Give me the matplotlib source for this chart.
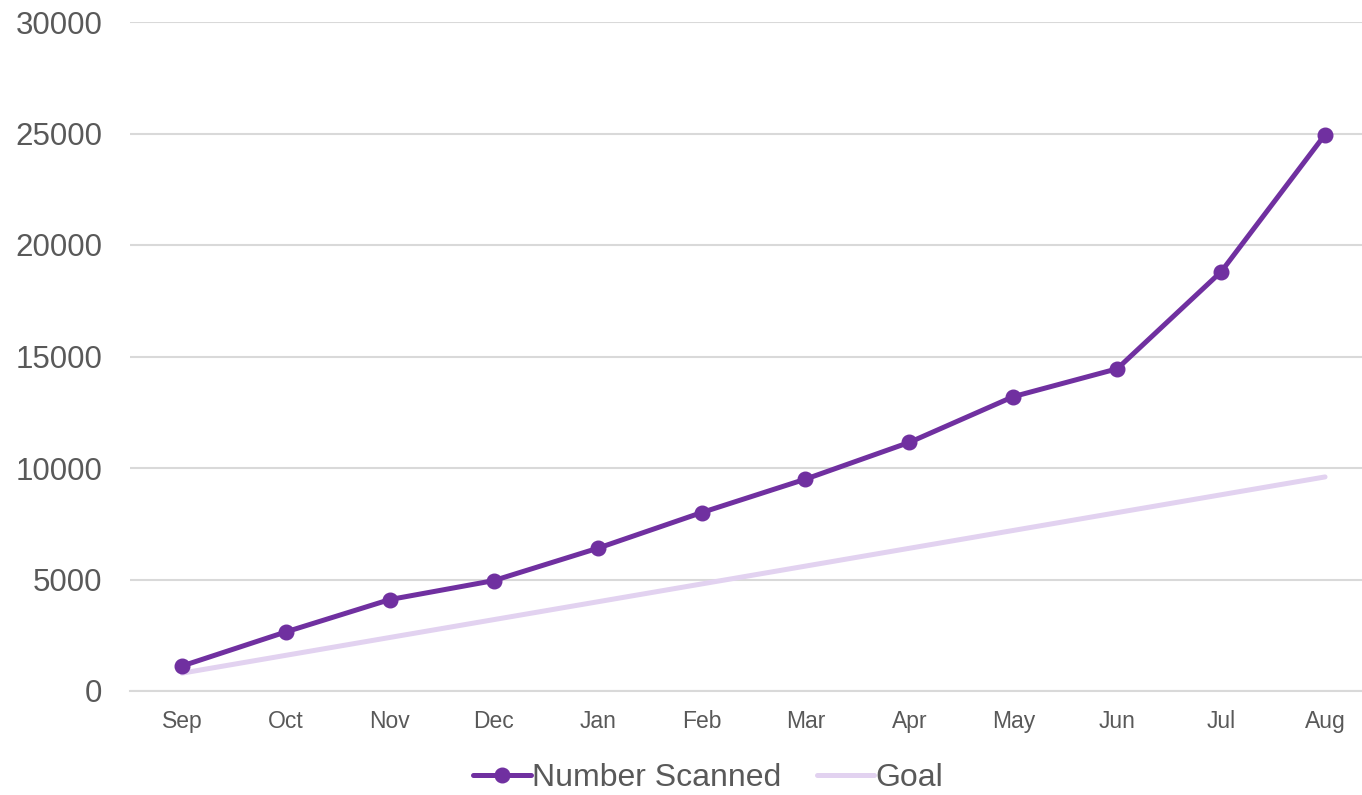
import matplotlib.pyplot as plt

plt.rcParams['font.family'] = ['Liberation Sans', 'DejaVu Sans']

months = ["Sep", "Oct", "Nov", "Dec", "Jan", "Feb", "Mar", "Apr", "May", "Jun", "Jul", "Aug"]
scanned = [1120, 2650, 4100, 4950, 6400, 8000, 9500, 11150, 13200, 14450, 18800, 24950]
goal = [800, 1600, 2400, 3200, 4000, 4800, 5600, 6400, 7200, 8000, 8800, 9600]

purple = "#7030A0"
lavender = "#E2D2F0"
grey_text = "#595959"

fig = plt.figure(figsize=(13.62, 7.95), dpi=100)
ax = fig.add_axes([130 / 1362, 1 - 691 / 795, 1247 / 1362, 669 / 795])

x = range(len(months))
ax.plot(x, scanned, color=purple, linewidth=3.6, marker="o", markersize=10.5,
        label="Number Scanned", zorder=3, solid_capstyle="round")
ax.plot(x, goal, color=lavender, linewidth=3.6, label="Goal", zorder=2,
        solid_capstyle="round")

ax.set_xlim(-0.5, len(months) - 0.5)
ax.set_ylim(0, 30000)
ax.set_yticks(range(0, 30001, 5000))
ax.set_xticks(list(x))
ax.set_xticklabels(months)

ax.yaxis.grid(True, color="#D9D9D9", linewidth=1.5)
ax.set_axisbelow(True)
for s in ["top", "right", "left"]:
    ax.spines[s].set_visible(False)
ax.spines["bottom"].set_color("#D9D9D9")
ax.spines["bottom"].set_linewidth(1.5)

ax.tick_params(axis="y", length=0, labelsize=22.5, labelcolor=grey_text, pad=20)
ax.tick_params(axis="x", length=0, labelsize=16.5, labelcolor=grey_text, pad=14)

leg = fig.legend(loc="lower center", bbox_to_anchor=(0.52, -0.034), ncol=2, frameon=False,
                 fontsize=23, labelcolor=grey_text, handlelength=1.8, handletextpad=0.05,
                 columnspacing=1.1)

fig.savefig("out.png", dpi=100)
